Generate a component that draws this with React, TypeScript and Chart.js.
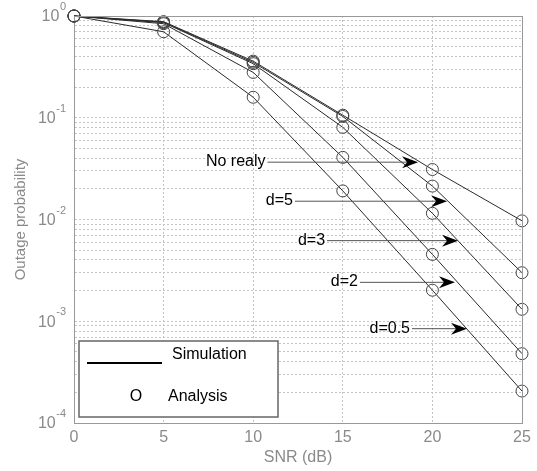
import React, { useEffect, useRef } from "react";
import { Chart, registerables } from "chart.js";

Chart.register(...registerables);

const snr = [0, 5, 10, 15, 20, 25];
const noRelay = [1, 0.88, 0.36, 0.106, 0.031, 0.0097];
const d5 = [1, 0.87, 0.35, 0.103, 0.0213, 0.003];
const d3 = [1, 0.86, 0.34, 0.0805, 0.0115, 0.00131];
const d2 = [1, 0.84, 0.279, 0.0408, 0.00454, 0.00048];
const d05 = [1, 0.7, 0.159, 0.0191, 0.00202, 0.000206];

const seriesNames = ["No realy", "d=5", "d=3", "d=2", "d=0.5"];
const seriesValues = [noRelay, d5, d3, d2, d05];

const xTicks = [0, 5, 10, 15, 20, 25];
const yExponents = [0, -1, -2, -3, -4];

// annotation arrows (data coordinates)
const annLabels = ["No realy", "d=5", "d=3", "d=2", "d=0.5"];
const annStartX = [10.8, 12.33, 14.12, 15.96, 18.86];
const annEndX = [19.2, 20.82, 21.43, 21.26, 21.93];
const annY = [0.037, 0.0153, 0.00627, 0.00244, 0.000855];

const FONT = "'Liberation Sans', Arial, sans-serif";
const GREY = "#8a8a8a";

function buildYTicks() {
  const t: number[] = [];
  for (let e = -4; e < 0; e++) {
    for (let m = 1; m <= 9; m++) t.push(m * Math.pow(10, e));
  }
  t.push(1);
  return t;
}

const overlayPlugin = {
  id: "overlay",
  afterDraw(chart: any) {
    const { ctx, chartArea, scales } = chart;
    const xs = scales.x;
    const ys = scales.y;
    ctx.save();
    // top & right borders
    ctx.strokeStyle = "#999";
    ctx.lineWidth = 1;
    ctx.setLineDash([]);
    ctx.beginPath();
    ctx.moveTo(chartArea.left, chartArea.top + 0.5);
    ctx.lineTo(chartArea.right, chartArea.top + 0.5);
    ctx.moveTo(chartArea.right + 0.5, chartArea.top);
    ctx.lineTo(chartArea.right + 0.5, chartArea.bottom);
    ctx.stroke();

    // y tick labels with superscripts
    const rightEdge = chartArea.left - 8;
    ctx.fillStyle = GREY;
    ctx.textBaseline = "middle";
    yExponents.forEach((e) => {
      const py = ys.getPixelForValue(Math.pow(10, e));
      const expStr = e < 0 ? "-" + Math.abs(e) : String(e);
      ctx.font = `11px ${FONT}`;
      const ew = ctx.measureText(expStr).width;
      ctx.textAlign = "left";
      ctx.fillText(expStr, rightEdge - ew, py - 9);
      ctx.font = `16px ${FONT}`;
      ctx.textAlign = "right";
      ctx.fillText("10", rightEdge - ew - 0.5, py + 1);
    });

    // axis titles
    ctx.fillStyle = GREY;
    ctx.font = `16px ${FONT}`;
    ctx.textAlign = "center";
    ctx.textBaseline = "middle";
    ctx.fillText("SNR (dB)", (chartArea.left + chartArea.right) / 2, chartArea.bottom + 35);
    ctx.save();
    ctx.translate(21, (chartArea.top + chartArea.bottom) / 2);
    ctx.rotate(-Math.PI / 2);
    ctx.font = `15px ${FONT}`;
    ctx.fillText("Outage probability", 0, 0);
    ctx.restore();

    // annotations
    annLabels.forEach((lab, i) => {
      const sx = xs.getPixelForValue(annStartX[i]);
      const ex = xs.getPixelForValue(annEndX[i]);
      const py = ys.getPixelForValue(annY[i]);
      ctx.fillStyle = "#000";
      ctx.font = `16px ${FONT}`;
      ctx.textAlign = "right";
      ctx.textBaseline = "middle";
      ctx.fillText(lab, sx - 2, py);
      ctx.strokeStyle = "#555";
      ctx.lineWidth = 1;
      ctx.beginPath();
      ctx.moveTo(sx, py + 0.5);
      ctx.lineTo(ex - 10, py + 0.5);
      ctx.stroke();
      ctx.fillStyle = "#000";
      ctx.beginPath();
      ctx.moveTo(ex, py + 0.5);
      ctx.lineTo(ex - 16, py - 5.5);
      ctx.lineTo(ex - 11, py + 0.5);
      ctx.lineTo(ex - 16, py + 6.5);
      ctx.closePath();
      ctx.fill();
    });

    // legend box
    const bx = chartArea.left + 5;
    const by = chartArea.bottom - 82;
    const bw = 199;
    const bh = 76;
    ctx.fillStyle = "#fff";
    ctx.fillRect(bx, by, bw, bh);
    ctx.strokeStyle = "#666";
    ctx.lineWidth = 1.5;
    ctx.strokeRect(bx, by, bw, bh);
    ctx.strokeStyle = "#000";
    ctx.lineWidth = 2;
    ctx.beginPath();
    ctx.moveTo(bx + 8, by + 22);
    ctx.lineTo(bx + 83, by + 22);
    ctx.stroke();
    ctx.fillStyle = "#000";
    ctx.font = `16px ${FONT}`;
    ctx.textAlign = "left";
    ctx.textBaseline = "middle";
    ctx.fillText("Simulation", bx + 93, by + 14);
    ctx.fillText("Analysis", bx + 89, by + 56);
    ctx.textAlign = "center";
    ctx.fillText("O", bx + 57, by + 56);
    ctx.restore();
  },
};

export default function App() {
  const ref = useRef<HTMLCanvasElement>(null);
  useEffect(() => {
    if (!ref.current) return;
    const yTicks = buildYTicks();
    const chart = new Chart(ref.current, {
      type: "line",
      data: {
        datasets: seriesValues.map((vals, i) => ({
          label: seriesNames[i],
          data: snr.map((x, j) => ({ x, y: vals[j] })),
          borderColor: "#2a2a2a",
          borderWidth: 1,
          pointRadius: 6,
          pointBorderWidth: 1,
          pointBorderColor: "#444",
          pointBackgroundColor: "rgba(0,0,0,0)",
          fill: false,
          tension: 0,
          clip: false as any,
        })),
      },
      options: {
        animation: false,
        responsive: false,
        layout: { padding: { top: 16, right: 15, left: 0, bottom: 0 } },
        plugins: { legend: { display: false }, tooltip: { enabled: false } },
        scales: {
          x: {
            type: "linear",
            min: 0,
            max: 25,
            afterBuildTicks: (s: any) => {
              s.ticks = xTicks.map((v) => ({ value: v }));
            },
            afterFit: (s: any) => {
              s.height = 48;
            },
            ticks: {
              color: GREY,
              font: { size: 16, family: FONT },
              padding: 5,
              maxRotation: 0,
              autoSkip: false,
            },
            grid: { color: "#c4c4c4", drawTicks: false, lineWidth: 1 },
            border: { color: "#999", width: 1, dash: [2, 2] },
          },
          y: {
            type: "logarithmic",
            min: 1e-4,
            max: 1,
            afterBuildTicks: (s: any) => {
              s.ticks = yTicks.map((v) => ({ value: v }));
            },
            afterFit: (s: any) => {
              s.width = 74;
            },
            ticks: {
              callback: () => "",
              autoSkip: false,
            },
            grid: { color: "#c4c4c4", drawTicks: false, lineWidth: 1 },
            border: { color: "#999", width: 1, dash: [2, 2] },
          },
        },
      },
      plugins: [overlayPlugin],
    });
    return () => chart.destroy();
  }, []);
  return (
    <div style={{ position: "fixed", left: 0, top: 0, width: 537, height: 471, background: "#fff" }}>
      <canvas ref={ref} width={537} height={471} />
    </div>
  );
}
